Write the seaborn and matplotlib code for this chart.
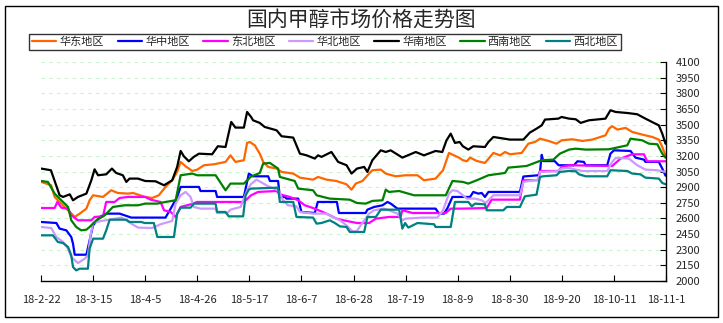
import matplotlib
matplotlib.use("Agg")
import matplotlib.pyplot as plt
from matplotlib.patches import Rectangle
from matplotlib.lines import Line2D
import seaborn as sns
import pandas as pd

title = "国内甲醇市场价格走势图"
start_date = "2018-02-22"
regions = ["华东地区", "华中地区", "东北地区", "华北地区", "华南地区", "西南地区", "西北地区"]
colors = ["#FF6600", "#0000FF", "#FF00FF", "#CC99FF", "#000000", "#008000", "#008080"]
tick_labels = ["18-2-22", "18-3-15", "18-4-5", "18-4-26", "18-5-17", "18-6-7", "18-6-28",
               "18-7-19", "18-8-9", "18-8-30", "18-9-20", "18-10-11", "18-11-1"]
y_ticks = list(range(2000, 4101, 150))

# (days since 2018-02-22, price)
east = [(0.1,2950),(4.1,2918),(5.5,2806),(6.8,2774),(9.5,2710),(11.6,2662),(13.6,2614),(15.6,2646),
        (18.3,2694),(19.6,2774),(21.0,2822),(25.0,2806),(28.3,2870),(31.0,2844),(35.1,2838),(37.1,2844),
        (42.0,2806),(44.8,2796),(47.5,2822),(50.2,2902),(52.9,2966),(54.9,3046),(56.3,3142),(58.3,3100),
        (61.0,3055),(63.0,3068),(65.7,3110),(69.7,3119),(74.4,3142),(76.4,3205),(78.4,3142),(81.8,3158),
        (83.1,3324),(84.2,3333),(86.2,3301),(88.2,3221),(89.6,3142),(91.6,3094),(95.0,3078),(97.0,3046),
        (101.7,3030),(104.4,2991),(109.7,2972),(111.7,2998),(115.1,2972),(119.1,2959),(123.2,2927),
        (125.2,2876),(126.9,2934),(129.6,2959),(132.3,3030),(133.6,3062),(137.0,3068),(139.0,3030),
        (143.0,3004),(147.1,3014),(151.8,3014),(154.4,2966),(159.1,2982),(162.1,3062),(164.5,3228),
        (166.5,3205),(168.5,3183),(170.1,3158),(171.7,3148),(173.0,3183),(175.7,3151),(179.0,3132),
        (182.4,3228),(185.1,3205),(187.1,3237),(189.1,3215),(193.8,3228),(196.5,3317),(199.2,3333),
        (201.2,3365),(204.6,3343),(207.9,3317),(209.9,3349),(214.2,3359),(218.3,3343),(222.3,3356),
        (227.6,3397),(229.0,3461),(230.3,3484),(232.4,3452),(235.7,3468),(238.4,3429),(242.4,3404),
        (246.5,3381),(249.1,3356),(250.5,3285),(251.8,3205)]
central = [(0.1,2566),(6.2,2556),(7.5,2502),(10.2,2486),(12.2,2422),(12.9,2358),(13.6,2252),(18.3,2252),
           (19.6,2390),(21.0,2534),(23.7,2614),(26.3,2646),(31.7,2646),(36.4,2608),(50.2,2608),(52.3,2694),
           (54.9,2806),(56.3,2902),(63.7,2902),(64.3,2863),(70.4,2863),(71.0,2806),(81.8,2806),(83.8,3030),
           (85.5,3004),(91.6,3004),(92.3,2959),(95.6,2959),(96.3,2806),(98.3,2806),(99.0,2790),(103.7,2790),
           (105.0,2662),(110.4,2652),(111.6,2758),(119.3,2758),(120.1,2652),(130.9,2652),(131.6,2684),
           (134.3,2710),(137.7,2726),(139.7,2758),(141.0,2742),(143.7,2694),(159.1,2694),(160.5,2646),
           (162.5,2646),(163.9,2700),(165.9,2806),(173.0,2806),(174.3,2854),(176.3,2838),(177.7,2844),
           (179.0,2806),(180.4,2854),(193.1,2854),(194.5,3002),(200.5,3014),(201.2,3050),(201.9,3210),
           (202.5,3150),(207.1,3150),(208.7,3110),(214.9,3110),(216.3,3148),(218.9,3142),(219.6,3110),
           (228.3,3110),(229.6,3221),(231.0,3253),(237.7,3247),(239.7,3183),(243.1,3164),(243.7,3142),
           (249.1,3142),(250.5,3078),(251.8,3010)]
northeast = [(0.1,2700),(5.5,2700),(6.6,2758),(8.2,2703),(10.9,2694),(12.2,2630),(14.9,2582),(20.3,2582),
             (21.6,2614),(25.0,2620),(26.3,2758),(29.7,2758),(31.7,2796),(35.1,2806),(42.0,2806),(44.2,2780),
             (48.2,2758),(49.6,2678),(52.3,2662),(54.3,2614),(56.3,2710),(60.3,2735),(63.0,2758),(81.8,2758),
             (84.7,2822),(87.5,2854),(95.0,2863),(96.3,2831),(100.3,2806),(103.7,2774),(106.4,2726),
             (110.4,2694),(115.1,2646),(119.1,2598),(123.2,2576),(127.4,2556),(132.3,2556),(135.0,2598),
             (140.3,2614),(145.0,2614),(145.7,2678),(149.8,2652),(163.2,2652),(165.2,2694),(170.1,2694),
             (179.7,2700),(181.7,2780),(193.1,2780),(194.5,2966),(200.5,2966),(201.2,3055),(208.6,3055),
             (209.9,3094),(212.9,3110),(230.3,3103),(233.7,3174),(238.4,3215),(243.1,3215),(244.4,3148),
             (251.8,3148)]
north = [(0.1,2518),(4.1,2508),(6.2,2422),(8.9,2374),(10.9,2310),(12.2,2230),(14.9,2172),(17.6,2214),
         (18.9,2246),(20.0,2438),(21.0,2556),(24.3,2576),(27.7,2588),(32.4,2608),(34.4,2582),(36.4,2550),
         (39.1,2512),(44.8,2508),(48.2,2544),(52.9,2576),(54.3,2742),(56.3,2822),(58.3,2854),(60.3,2806),
         (61.6,2710),(64.3,2694),(70.4,2694),(71.0,2652),(75.1,2652),(76.4,2684),(80.5,2710),(81.8,2790),
         (83.1,2870),(84.7,2930),(86.9,2972),(91.6,2908),(95.6,2870),(97.6,2774),(99.6,2726),(103.0,2716),
         (104.4,2662),(109.7,2646),(115.1,2646),(117.1,2620),(120.5,2582),(123.2,2534),(124.5,2502),
         (125.7,2475),(127.4,2480),(128.9,2534),(132.3,2646),(134.3,2678),(138.3,2694),(140.3,2678),
         (143.7,2646),(145.7,2582),(147.1,2598),(153.8,2608),(159.8,2608),(162.1,2678),(164.5,2838),
         (165.9,2870),(167.9,2863),(170.1,2822),(171.7,2790),(175.0,2790),(177.7,2774),(179.3,2748),
         (182.4,2822),(193.1,2822),(194.5,2950),(200.5,2972),(201.2,3046),(207.9,3052),(209.9,3078),
         (212.9,3084),(215.6,3068),(218.3,3055),(228.3,3055),(230.3,3142),(231.7,3180),(237.0,3174),
         (240.4,3110),(243.7,3068),(248.5,3062),(251.8,3046)]
south = [(0.1,3078),(4.0,3062),(7.5,2822),(8.9,2806),(11.6,2831),(12.9,2774),(14.9,2806),(18.3,2838),
         (20.3,2966),(21.6,3071),(23.0,3014),(26.3,3023),(28.6,3078),(30.3,3036),(33.0,3014),(34.4,2950),
         (35.7,2982),(39.1,2982),(42.0,2959),(46.2,2956),(49.6,2918),(52.9,2966),(54.9,3094),(56.3,3247),
         (57.6,3196),(59.6,3148),(61.6,3190),(63.7,3221),(69.0,3215),(71.3,3292),(74.4,3285),(76.7,3525),
         (78.4,3471),(81.8,3471),(83.1,3621),(84.7,3573),(85.5,3541),(88.2,3516),(90.2,3477),(95.0,3445),
         (97.0,3388),(101.7,3375),(104.4,3221),(107.1,3205),(110.4,3174),(111.7,3205),(113.1,3190),
         (117.1,3237),(119.8,3142),(123.2,3110),(125.2,3030),(127.4,3078),(130.3,3094),(131.6,3046),
         (133.6,3158),(137.0,3253),(139.0,3237),(141.0,3253),(145.7,3183),(151.1,3237),(154.4,3205),
         (159.1,3247),(161.8,3237),(163.5,3349),(165.2,3413),(166.9,3324),(168.8,3333),(170.1,3292),
         (172.3,3260),(174.3,3292),(179.0,3285),(180.4,3333),(182.4,3381),(189.1,3356),(194.5,3356),
         (197.1,3423),(199.8,3461),(201.9,3493),(203.2,3548),(208.6,3557),(209.9,3573),(212.9,3557),
         (215.6,3551),(217.6,3516),(220.9,3541),(227.6,3557),(229.6,3637),(231.7,3621),(236.4,3611),
         (240.4,3599),(243.7,3557),(247.1,3516),(249.1,3493),(250.5,3413),(251.8,3317)]
southwest = [(0.1,2959),(2.8,2950),(5.5,2838),(7.5,2790),(10.9,2710),(12.2,2582),(14.2,2518),(16.2,2486),
             (18.3,2492),(19.6,2518),(22.3,2582),(25.7,2630),(29.0,2710),(33.7,2726),(39.1,2726),(42.0,2742),
             (46.9,2742),(50.2,2758),(54.3,2774),(56.3,3014),(61.0,3030),(63.0,3014),(70.4,3014),(74.4,2870),
             (76.4,2934),(81.8,2934),(84.6,3000),(88.2,3036),(89.6,3126),(92.3,3132),(95.6,3078),(96.3,2998),
             (102.3,2959),(103.7,2886),(109.7,2870),(111.1,2822),(116.4,2790),(124.5,2780),(127.4,2748),
             (130.9,2742),(133.6,2768),(137.7,2774),(139.0,2876),(140.3,2854),(144.4,2863),(150.4,2822),
             (163.2,2822),(165.9,2959),(170.1,2950),(172.3,2934),(175.7,2966),(180.4,3014),(187.1,3036),
             (188.4,3087),(195.8,3103),(201.9,3158),(206.6,3164),(209.2,3221),(212.9,3260),(215.6,3269),
             (219.6,3260),(229.0,3263),(236.4,3301),(237.7,3365),(242.4,3349),(245.1,3317),(248.5,3311),
             (250.5,3221),(251.8,3183)]
northwest = [(0.1,2438),(4.8,2438),(6.8,2374),(8.9,2364),(10.9,2326),(12.2,2246),(12.9,2134),(14.2,2102),
             (15.6,2118),(18.9,2118),(19.6,2310),(21.0,2406),(25.0,2406),(26.3,2486),(27.7,2588),(34.4,2588),
             (35.7,2566),(40.4,2566),(41.8,2556),(45.5,2556),(46.9,2422),(53.6,2422),(54.9,2646),(56.3,2703),
             (60.3,2703),(61.6,2742),(70.4,2742),(71.0,2662),(74.4,2662),(75.7,2620),(81.5,2620),(82.5,2822),
             (83.8,2876),(84.7,2886),(95.6,2895),(96.3,2758),(101.7,2758),(103.0,2614),(109.7,2608),
             (111.1,2550),(113.1,2556),(116.4,2582),(118.5,2556),(120.5,2524),(123.2,2518),(124.5,2470),
             (130.3,2470),(131.6,2614),(135.0,2614),(137.0,2684),(144.4,2684),(145.7,2502),(146.8,2556),
             (148.1,2512),(151.8,2556),(158.5,2544),(159.1,2518),(165.2,2518),(166.9,2758),(172.3,2758),
             (173.7,2716),(175.0,2742),(179.0,2735),(179.7,2678),(186.4,2678),(187.8,2710),(193.1,2710),
             (195.1,2812),(199.8,2828),(201.2,2998),(202.5,3004),(207.9,3014),(209.2,3046),(212.9,3055),
             (215.6,3052),(216.9,3023),(219.6,3004),(228.3,3004),(229.6,3062),(236.4,3055),(238.4,3030),
             (241.7,3023),(243.7,2991),(249.1,2982),(250.5,2940),(251.8,2928)]

series = [east, central, northeast, north, south, southwest, northwest]

t0 = pd.Timestamp(start_date)
rows = []
for name, pts in zip(regions, series):
    for d, v in pts:
        rows.append({"date": t0 + pd.to_timedelta(d, unit="D"), "price": v, "region": name})
df = pd.DataFrame(rows)

sns.set_style("white")
plt.rcParams["font.family"] = ["Noto Sans CJK SC", "DejaVu Sans"]

fig = plt.figure(figsize=(7.23, 3.23), dpi=100)
ax = fig.add_axes([41/723, 1 - 281/323, 625/723, 219/323])

sns.lineplot(data=df, x="date", y="price", hue="region", hue_order=regions,
             palette=dict(zip(regions, colors)), estimator=None, sort=False,
             linewidth=1.6, ax=ax, legend=False)

tick_dates = [pd.to_datetime("20" + s, format="%Y-%m-%d") for s in tick_labels]
ax.set_xlim(tick_dates[0], tick_dates[-1])
ax.set_xticks(tick_dates)
ax.set_xticklabels(tick_labels, fontsize=8)
ax.set_ylim(y_ticks[0], y_ticks[-1])
ax.set_yticks(y_ticks)
ax.set_yticklabels([str(v) for v in y_ticks], fontsize=8)
ax.yaxis.tick_right()
ax.set_xlabel("")
ax.set_ylabel("")

for s in ["left", "top"]:
    ax.spines[s].set_visible(False)
for s in ["right", "bottom"]:
    ax.spines[s].set_color("black")
    ax.spines[s].set_linewidth(1.0)
ax.tick_params(axis="y", direction="in", length=4, width=0.8, color="black", pad=7, right=True, left=False)
ax.tick_params(axis="x", direction="in", length=4, width=0.8, color="black", pad=10, bottom=True)
ax.yaxis.grid(True, color="#c8f5c8", linestyle=(0, (3, 4)), linewidth=0.8)
ax.xaxis.grid(False)
ax.set_axisbelow(True)

fig.text(0.5, 1 - 21/323, title, ha="center", va="center", fontsize=15, fontweight="light")

handles = [Line2D([0], [0], color=c, lw=1.6) for c in colors]
leg = fig.legend(handles, regions, loc="center", bbox_to_anchor=(325/723, 1 - 42/323),
                 ncol=7, fontsize=8, frameon=True, fancybox=False, handlelength=2.2,
                 handletextpad=0.3, columnspacing=1.2, borderpad=0.25, edgecolor="black")
leg.get_frame().set_linewidth(1.0)

fig.add_artist(Rectangle((5/723, 6/323), 713/723, 311/323, transform=fig.transFigure,
                         fill=False, edgecolor="black", linewidth=1.0))

fig.savefig("out.png", dpi=100)
